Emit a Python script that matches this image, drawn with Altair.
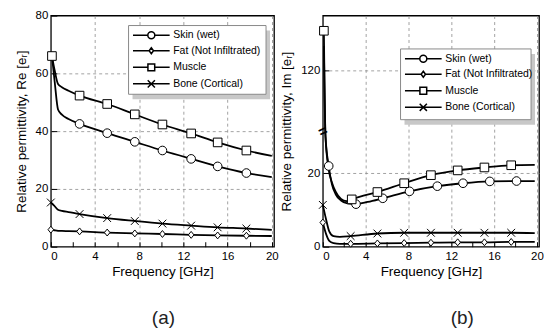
import altair as alt
import pandas as pd

SERIES = ["Skin (wet)", "Fat (Not Infiltrated)", "Muscle", "Bone (Cortical)"]

# ---------------- panel (a): real part ----------------
re_skin_f = [0.1, 0.35, 0.65, 1.0, 1.6, 2.6, 5.1, 7.6, 10.1, 12.7, 15.1, 17.7, 20.0]
re_skin_v = [66, 57, 47.5, 45.7, 44.2, 42.5, 39.3, 36.3, 33.3, 30.4, 27.8, 25.5, 24.1]
re_skin_m = [0, 0, 0, 0, 0, 1, 1, 1, 1, 1, 1, 1, 0]

re_fat_f = [0.0, 0.3, 0.65, 1.0, 1.6, 2.6, 5.1, 7.6, 10.1, 12.7, 15.1, 17.7, 20.0]
re_fat_v = [5.9, 5.7, 5.5, 5.45, 5.4, 5.3, 4.9, 4.6, 4.4, 4.1, 3.9, 3.8, 3.7]
re_fat_m = [1, 0, 0, 0, 0, 1, 1, 1, 1, 1, 1, 1, 0]

re_muscle_f = [0.1, 0.35, 0.65, 1.0, 1.6, 2.6, 5.1, 7.6, 10.1, 12.7, 15.1, 17.7, 20.0]
re_muscle_v = [66, 61, 56.3, 55.2, 54.0, 52.3, 49.4, 45.8, 42.3, 39.2, 36.1, 33.3, 31.4]
re_muscle_m = [1, 0, 0, 0, 0, 1, 1, 1, 1, 1, 1, 1, 0]

re_bone_f = [0.0, 0.3, 0.65, 1.0, 1.6, 2.6, 5.1, 7.6, 10.1, 12.7, 15.1, 17.7, 20.0]
re_bone_v = [15.3, 14.2, 12.8, 12.4, 12.0, 11.3, 9.9, 8.9, 8.0, 7.3, 6.7, 6.3, 5.8]
re_bone_m = [1, 0, 0, 0, 0, 1, 1, 1, 1, 1, 1, 1, 0]

# ---------------- panel (b): imaginary part ----------------
im_skin_f = [0.1, 0.25, 0.55, 0.85, 1.2, 1.7, 2.3, 3.1, 4.2, 5.6, 8.1, 10.7, 13.1, 15.6, 18.1, 19.8]
im_skin_v = [128, 30, 22, 17, 14.3, 12.6, 11.8, 11.6, 12.2, 13.2, 15.1, 16.5, 17.3, 17.8, 17.9, 17.9]
im_skin_m = [0, 0, 1, 0, 0, 0, 0, 1, 0, 1, 1, 1, 1, 1, 1, 0]

im_fat_f = [0.0, 0.3, 0.6, 1.0, 1.6, 2.6, 5.1, 7.6, 10.1, 12.6, 15.1, 17.6, 19.8]
im_fat_v = [6.6, 3.5, 1.6, 1.0, 0.8, 0.8, 0.9, 1.0, 1.1, 1.2, 1.2, 1.3, 1.3]
im_fat_m = [1, 0, 0, 0, 0, 1, 1, 1, 1, 1, 1, 1, 0]

im_muscle_f = [0.1, 0.25, 0.55, 0.85, 1.2, 1.7, 2.2, 2.7, 3.8, 5.1, 7.6, 10.1, 12.6, 15.1, 17.6, 19.8]
im_muscle_v = [133, 30, 21, 17.5, 15, 13.0, 12.4, 12.9, 13.9, 14.9, 17.3, 19.5, 20.8, 21.6, 22.2, 22.3]
im_muscle_m = [1, 0, 0, 0, 0, 0, 0, 1, 0, 1, 1, 1, 1, 1, 1, 0]

im_bone_f = [0.0, 0.3, 0.6, 1.0, 1.6, 2.6, 5.1, 7.6, 10.1, 12.6, 15.1, 17.6, 19.8]
im_bone_v = [11.4, 7.5, 4.2, 2.9, 2.7, 2.9, 3.6, 3.8, 3.8, 3.8, 3.8, 3.8, 3.7]
im_bone_m = [1, 0, 0, 0, 0, 1, 1, 1, 1, 1, 1, 1, 0]

# tick labels / annotations
x_labels = [0, 4, 8, 12, 16, 20]
x_minor = [0, 2, 4, 6, 8, 10, 12, 14, 16, 18, 20]
re_y_labels = [0, 20, 40, 60, 80]
im_y_labels = [0, 20, 120]
captions = ["(a)", "(b)"]
break_mark = [{"f": 0, "v": 60}]

# marker shapes (plot) and legend symbols (line + marker)
X_PATH = "M-0.9,-0.9L0.9,0.9M-0.9,0.9L0.9,-0.9"
DIAMOND_PATH = "M0,-0.8L0.65,0L0,0.8L-0.65,0Z"
MARKERS = ["circle", DIAMOND_PATH, "square", X_PATH]
LEGEND_SYMBOLS = [
    "M-1.7,0H2.025M3.775,0H7.5M2.025,0A0.875,0.875,0,1,0,3.775,0A0.875,0.875,0,1,0,2.025,0Z",
    "M-1.7,0H2.35M3.45,0H7.5M2.9,-0.75L3.45,0L2.9,0.75L2.35,0Z",
    "M-1.7,0H2.05M3.75,0H7.5M2.05,-0.85H3.75V0.85H2.05Z",
    "M-1.7,0H7.5M2.0,-0.9L3.8,0.9M2.0,0.9L3.8,-0.9",
]


def frame(parts):
    rows = []
    for name, fs, vs, ms in parts:
        for f, v, m in zip(fs, vs, ms):
            rows.append({"series": name, "f": f, "v": v, "m": m})
    return pd.DataFrame(rows)


re_df = frame([
    (SERIES[0], re_skin_f, re_skin_v, re_skin_m),
    (SERIES[1], re_fat_f, re_fat_v, re_fat_m),
    (SERIES[2], re_muscle_f, re_muscle_v, re_muscle_m),
    (SERIES[3], re_bone_f, re_bone_v, re_bone_m),
])
im_df = frame([
    (SERIES[0], im_skin_f, im_skin_v, im_skin_m),
    (SERIES[1], im_fat_f, im_fat_v, im_fat_m),
    (SERIES[2], im_muscle_f, im_muscle_v, im_muscle_m),
    (SERIES[3], im_bone_f, im_bone_v, im_bone_m),
])

FONT = "Liberation Sans"
GRID = dict(grid=True, gridDash=[3, 3], gridColor="#8c8c8c", gridWidth=0.8)


def panel(df, xscale, yscale, xmax, ylabels, ytitle, ymax_label, box, caption, caption_x, extra=None):
    gx = {"condition": {"test": f"datum.value > 0 && datum.value < {xmax}", "value": 1}, "value": 0}
    gy = {"condition": {"test": f"datum.value > 0 && datum.value < {ymax_label}", "value": 1}, "value": 0}
    x_main = alt.X("f:Q", scale=xscale, axis=alt.Axis(
        values=x_labels, title="Frequency [GHz]", ticks=False, domain=False,
        labelPadding=4, titlePadding=2, gridOpacity=gx, **GRID))
    y_main = alt.Y("v:Q", scale=yscale, axis=alt.Axis(
        values=ylabels, title=ytitle, ticks=False, domain=False,
        labelPadding=3, titlePadding=7, gridOpacity=gy, **GRID))
    lines = alt.Chart(df).mark_line(color="black", strokeWidth=1.8, interpolate="monotone").encode(
        x=x_main, y=y_main, detail="series:N")

    x_tick = alt.X("f:Q", scale=xscale, axis=alt.Axis(
        values=x_minor, orient="bottom", offset=-5, tickSize=5, labels=False, domain=False,
        grid=False, title=None, tickColor="black", tickWidth=1))
    y_tick = alt.Y("v:Q", scale=yscale, axis=alt.Axis(
        values=ylabels, orient="left", offset=-6, tickSize=6, labels=False, domain=False,
        grid=False, title=None, tickColor="black", tickWidth=1))
    points = alt.Chart(df).transform_filter("datum.m == 1").mark_point(
        filled=True, fill="white", stroke="black", strokeWidth=1, size=75, opacity=1).encode(
        x=x_tick, y=y_tick,
        shape=alt.Shape("series:N", scale=alt.Scale(domain=SERIES, range=MARKERS), legend=None))

    bx, by, bw, bh = box
    shadow = alt.Chart(alt.Data(values=[{"k": 1}])).mark_rect(color="#c8c8c8").encode(
        x=alt.value(bx + 4), x2=alt.value(bx + 4 + bw),
        y=alt.value(by + 5), y2=alt.value(by + 5 + bh))
    frame_box = alt.Chart(alt.Data(values=[{"k": 1}])).mark_rect(
        fill="white", stroke="#8a8a8a", strokeWidth=1).encode(
        x=alt.value(bx), x2=alt.value(bx + bw), y=alt.value(by), y2=alt.value(by + bh))
    legend = alt.Chart(df).transform_filter("false").mark_point(
        filled=False, color="black", strokeWidth=1.5).encode(
        x=alt.X("f:Q", scale=xscale, axis=None), y=alt.Y("v:Q", scale=yscale, axis=None),
        shape=alt.Shape("series:N", scale=alt.Scale(domain=SERIES, range=LEGEND_SYMBOLS),
                        legend=alt.Legend(title=None, orient="none", legendX=bx, legendY=by - 1.5,
                                          symbolSize=64, labelFontSize=10.5, labelFont=FONT,
                                          labelOffset=28.3, rowPadding=2.6, padding=6,
                                          symbolOpacity=1, symbolStrokeColor="black",
                                          symbolStrokeWidth=1.5, labelColor="black")))
    cap = alt.Chart(alt.Data(values=[{"label": caption}])).mark_text(
        fontSize=19, font=FONT, color="#222", baseline="middle").encode(
        x=alt.value(caption_x), y=alt.value(303.5), text="label:N")

    layers = [lines, points, shadow, frame_box, legend, cap]
    if extra is not None:
        layers.append(extra)
    return alt.layer(*layers).resolve_scale(shape="independent").resolve_axis(
        x="independent", y="independent")


re_x = alt.Scale(domain=[0, 20.2], nice=False, zero=False)
re_y = alt.Scale(domain=[0, 80], nice=False, zero=False)
im_x = alt.Scale(domain=[0, 20.2], nice=False, zero=False)
im_y = alt.Scale(domain=[0, 31.5, 100, 138], range=[232, 116, 116, 0], nice=False, zero=False)

brk = alt.Chart(alt.Data(values=break_mark)).mark_text(
    text="=", angle=335, fontSize=15, fontWeight="bold", color="black").encode(
    x=alt.X("f:Q", scale=im_x, axis=None), y=alt.Y("v:Q", scale=im_y, axis=None))

left = panel(re_df, re_x, re_y, 20.2, re_y_labels, "Relative permittivity, Re [eᵣ]", 80,
             (78, 10, 138, 69), captions[0], 113).properties(width=224, height=232)
right = panel(im_df, im_x, im_y, 20.2, im_y_labels, "Relative permittivity, Im [eᵣ]", 138,
              (78, 33.5, 131, 71), captions[1], 140, extra=brk).properties(width=217, height=232)

chart = alt.hconcat(left, right, spacing=49, bounds="flush").resolve_scale(
    shape="independent", x="independent", y="independent"
).properties(
    padding={"left": 5, "top": 0, "right": 0, "bottom": 0}
).configure_view(stroke="black", strokeWidth=1.3).configure_axis(
    labelFont=FONT, titleFont=FONT, labelFontSize=11.5, titleFontSize=13.5,
    titleFontWeight="normal", labelColor="black", titleColor="black", tickColor="black"
).configure_legend(labelFont=FONT)

chart.save("out.html", embed_options={"renderer": "svg", "actions": False})
